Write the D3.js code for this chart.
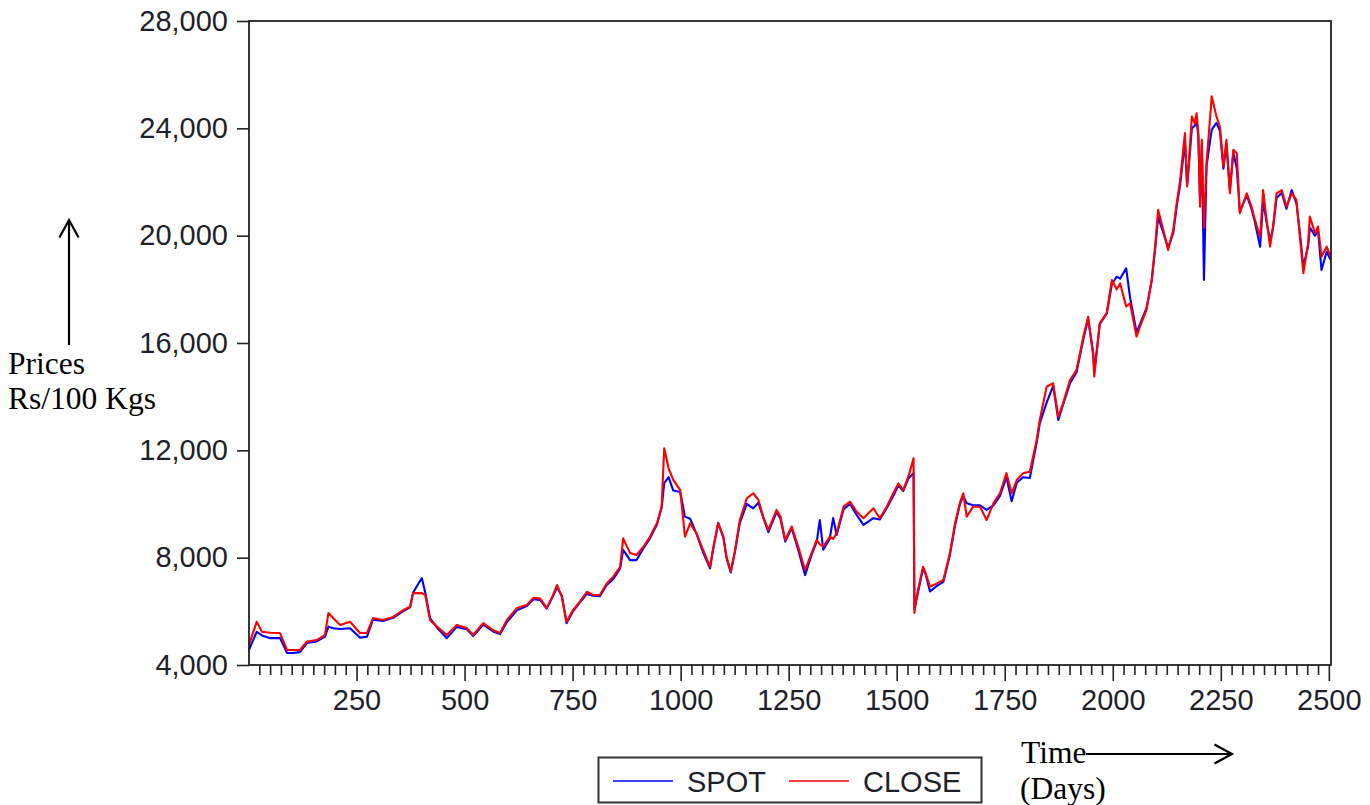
<!DOCTYPE html>
<html>
<head>
<meta charset="utf-8">
<script src="https://cdn.jsdelivr.net/npm/d3@7/dist/d3.min.js"></script>
<style>
  body { margin: 0; background: #fff; }
  svg { display: block; }
  .axis text { font-family: "Liberation Sans", Arial, sans-serif; font-size: 29px; fill: #1f1f2a; }
  .axis line { stroke: #222; stroke-width: 1.6px; }
  .note { font-family: "Liberation Serif", "Times New Roman", serif; font-size: 31.5px; fill: #000; }
</style>
</head>
<body>
<svg id="chart" width="1370" height="805"></svg>
<script>
// trading day index (x) and prices in Rs/100 Kgs
var days = [1, 19, 31, 50, 73, 89, 103, 119, 135, 158, 177, 185, 196, 212, 235, 258, 274, 288, 311, 335,
    358, 374, 381, 401, 409, 420, 436, 459, 482, 505, 520, 543, 566, 582, 598, 621, 644, 659, 675, 690,
    705, 714, 725, 736, 751, 767, 783, 797, 813, 829, 844, 860, 867, 883, 898, 914, 929, 945, 956, 962,
    972, 983, 999, 1010, 1022, 1037, 1052, 1068, 1076, 1087, 1099, 1106, 1116, 1126, 1137, 1153, 1168, 1180, 1191, 1203,
    1222, 1231, 1242, 1257, 1272, 1288, 1303, 1315, 1322, 1330, 1345, 1353, 1361, 1377, 1392, 1407, 1423, 1446, 1461, 1477,
    1492, 1504, 1515, 1527, 1539, 1541, 1546, 1561, 1567, 1577, 1593, 1608, 1623, 1635, 1646, 1654, 1662, 1677, 1693, 1708,
    1724, 1739, 1754, 1766, 1778, 1793, 1808, 1824, 1831, 1847, 1862, 1874, 1885, 1901, 1916, 1932, 1943, 1955, 1957, 1970,
    1986, 1998, 2009, 2017, 2031, 2040, 2055, 2063, 2078, 2090, 2098, 2105, 2117, 2128, 2140, 2148, 2156, 2167, 2172, 2177,
    2183, 2190, 2194, 2198, 2202, 2206, 2211, 2217, 2229, 2240, 2248, 2256, 2263, 2271, 2279, 2287, 2294, 2310, 2321, 2329,
    2341, 2348, 2356, 2364, 2371, 2379, 2391, 2402, 2414, 2425, 2433, 2441, 2452, 2456, 2468, 2475, 2483, 2495, 2504];

var spotPrice = [4560, 5240, 5100, 5000, 5000, 4450, 4450, 4480, 4820, 4880, 5060, 5430, 5370, 5340, 5370, 5020, 5050, 5690, 5640, 5760,
    6010, 6150, 6700, 7240, 6700, 5750, 5400, 5000, 5420, 5330, 5080, 5500, 5250, 5150, 5600, 6040, 6200, 6450, 6420, 6100,
    6580, 6900, 6580, 5560, 6000, 6330, 6650, 6580, 6560, 6980, 7200, 7600, 8290, 7910, 7910, 8350, 8720, 9230, 9850, 10780,
    11000, 10500, 10450, 9530, 9450, 8880, 8200, 7600, 8380, 9300, 8740, 8000, 7450, 8250, 9300, 10000, 9840, 10050, 9500, 8950,
    9700, 9450, 8600, 9100, 8300, 7350, 8100, 8600, 9400, 8300, 8700, 9480, 8850, 9800, 10000, 9600, 9220, 9470, 9420, 9850,
    10300, 10700, 10480, 10950, 11150, 6100, 6450, 7600, 7380, 6740, 6950, 7100, 8100, 9200, 9980, 10300, 10030, 9950, 9950, 9780,
    9950, 10300, 11000, 10100, 10800, 11000, 10970, 12300, 13000, 13780, 14400, 13130, 13700, 14500, 14900, 16150, 16900, 15600, 14900, 16700,
    17100, 18200, 18470, 18400, 18780, 17700, 16400, 16700, 17300, 18300, 19500, 20700, 20100, 19550, 20100, 21100, 21900, 23500, 21900, 22800,
    24000, 24100, 24300, 23700, 21300, 23400, 18350, 22600, 23950, 24200, 23900, 22500, 23400, 21700, 23100, 22500, 20900, 21500, 21000, 20500,
    19590, 21300, 20500, 19800, 20300, 21400, 21600, 21000, 21700, 21200, 20100, 18850, 19600, 20300, 20000, 20200, 18720, 19400, 19100];

var closePrice = [4750, 5610, 5240, 5200, 5190, 4560, 4560, 4560, 4870, 4930, 5120, 5940, 5750, 5490, 5610, 5190, 5190, 5750, 5680, 5790,
    6050, 6170, 6680, 6680, 6610, 5680, 5430, 5120, 5490, 5380, 5120, 5560, 5300, 5190, 5680, 6120, 6240, 6500, 6480, 6120,
    6610, 6980, 6550, 5610, 6050, 6360, 6730, 6610, 6610, 7040, 7290, 7660, 8720, 8170, 8100, 8410, 8780, 9280, 9900, 12080,
    11340, 10900, 10520, 8780, 9280, 8900, 8290, 7660, 8410, 9280, 8780, 8040, 7480, 8290, 9400, 10210, 10400, 10150, 9530, 9030,
    9780, 9530, 8660, 9160, 8410, 7540, 8170, 8660, 8500, 8410, 8780, 8700, 8900, 9900, 10090, 9720, 9470, 9840, 9470, 9900,
    10400, 10770, 10520, 11020, 11700, 5940, 6550, 7660, 7420, 6920, 7040, 7170, 8160, 9280, 10030, 10400, 9530, 9900, 9900, 9400,
    10030, 10400, 11150, 10400, 10900, 11150, 11200, 12390, 13130, 14370, 14500, 13250, 13750, 14620, 14990, 16240, 16980, 15490, 14750, 16740,
    17110, 18350, 18000, 18220, 17360, 17480, 16240, 16610, 17230, 18350, 19590, 20960, 20210, 19470, 20210, 21210, 22080, 23820, 21830, 22950,
    24440, 24190, 24560, 23820, 21080, 23570, 20290, 22710, 25190, 24440, 24060, 22580, 23570, 21580, 23200, 23070, 20840, 21580, 21080, 20590,
    19960, 21700, 20590, 19590, 20340, 21580, 21700, 21080, 21580, 21330, 19960, 18600, 19710, 20710, 20090, 20340, 19220, 19590, 19220];

var yTicks = [4000, 8000, 12000, 16000, 20000, 24000, 28000];
var xTicks = [250, 500, 750, 1000, 1250, 1500, 1750, 2000, 2250, 2500];
var seriesNames = ["SPOT", "CLOSE"];
var seriesColors = ["#0000ff", "#ff0000"];

(function () {
    var svg = d3.select("#chart"),
        x0 = 249, x1 = 1331, y0 = 21, y1 = 665;

    var x = d3.scaleLinear().domain([0, 2505]).range([x0 - 0.5, x1]);
    var y = d3.scaleLinear().domain([4000, 28000]).range([y1, y0]);

    // y axis, ticks pointing out to the left
    svg.append("g")
        .attr("class", "axis")
        .attr("transform", "translate(" + x0 + ",0)")
        .call(d3.axisLeft(y).tickValues(yTicks).tickSize(12).tickPadding(9)
            .tickFormat(d3.format(",")))
        .call(function (g) { g.select(".domain").remove(); });

    // x axis: minor ticks every 25 days, longer labelled ones every 250
    var minor = d3.range(25, 2501, 25).filter(function (d) { return d % 250 !== 0; });
    svg.append("g")
        .attr("class", "axis")
        .attr("transform", "translate(0," + y1 + ")")
        .call(d3.axisBottom(x).tickValues(minor).tickSize(10).tickFormat(""))
        .call(function (g) { g.select(".domain").remove(); });

    svg.append("g")
        .attr("class", "axis")
        .attr("transform", "translate(0," + y1 + ")")
        .call(d3.axisBottom(x).tickValues(xTicks).tickSize(16).tickPadding(8)
            .tickFormat(d3.format("d")))
        .call(function (g) { g.select(".domain").remove(); });

    // series lines, red drawn over blue
    var rows = days.map(function (d, i) {
        return {day: d, spot: spotPrice[i], close: closePrice[i]};
    });

    ["spot", "close"].forEach(function (key, i) {
        var line = d3.line()
            .x(function (d) { return x(d.day); })
            .y(function (d) { return y(d[key]); });
        svg.append("path")
            .datum(rows)
            .attr("fill", "none")
            .attr("stroke", seriesColors[i])
            .attr("stroke-width", 2.1)
            .attr("stroke-linejoin", "round")
            .attr("d", line);
    });

    // plot frame
    svg.append("rect")
        .attr("x", x0).attr("y", y0)
        .attr("width", x1 - x0).attr("height", y1 - y0)
        .attr("fill", "none")
        .attr("stroke", "#222")
        .attr("stroke-width", 1.8);

    // legend
    var legend = svg.append("g");
    legend.append("rect")
        .attr("x", 598.5).attr("y", 757.5).attr("width", 383).attr("height", 45)
        .attr("fill", "#fff").attr("stroke", "#333").attr("stroke-width", 2);
    var legendX = [613, 789];
    seriesNames.forEach(function (name, i) {
        legend.append("line")
            .attr("x1", legendX[i]).attr("x2", legendX[i] + 60)
            .attr("y1", 781).attr("y2", 781)
            .attr("stroke", seriesColors[i]).attr("stroke-width", 1.6);
        legend.append("text")
            .attr("x", legendX[i] + 74).attr("y", 792)
            .style("font-family", "'Liberation Sans', Arial, sans-serif")
            .style("font-size", "29px")
            .style("fill", "#1f1f2a")
            .text(name);
    });

    // annotations
    function arrow(ax1, ay1, ax2, ay2) {
        var g = svg.append("g").attr("stroke", "#000").attr("stroke-width", 2.2).attr("fill", "none");
        g.append("line").attr("x1", ax1).attr("y1", ay1).attr("x2", ax2).attr("y2", ay2);
        var a = Math.atan2(ay2 - ay1, ax2 - ax1), L = 20, s = 0.5;
        g.append("path").attr("d",
            "M" + (ax2 - L * Math.cos(a - s)) + "," + (ay2 - L * Math.sin(a - s)) +
            "L" + ax2 + "," + ay2 +
            "L" + (ax2 - L * Math.cos(a + s)) + "," + (ay2 - L * Math.sin(a + s)));
    }

    arrow(69, 345, 69, 220);
    svg.append("text").attr("class", "note").attr("x", 8).attr("y", 374).text("Prices");
    svg.append("text").attr("class", "note").attr("x", 8).attr("y", 409).text("Rs/100 Kgs");

    svg.append("text").attr("class", "note").attr("x", 1021).attr("y", 763).text("Time");
    arrow(1086, 754, 1232, 754);
    svg.append("text").attr("class", "note").attr("x", 1020).attr("y", 799).text("(Days)");
})();
</script>
</body>
</html>
